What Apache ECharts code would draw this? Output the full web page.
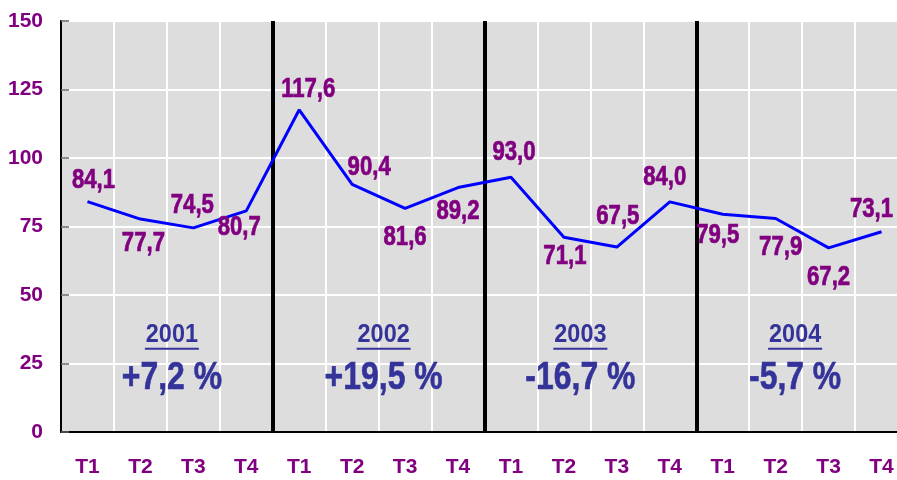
<!DOCTYPE html>
<html>
<head>
<meta charset="utf-8">
<style>
  html, body { margin: 0; padding: 0; background: #fff; }
  #chart { width: 897px; height: 480px; }
</style>
<script src="https://cdn.jsdelivr.net/npm/echarts@6/dist/echarts.min.js"></script>
</head>
<body>
<div id="chart"></div>
<script>
// data
const quarters = ['T1', 'T2', 'T3', 'T4', 'T1', 'T2', 'T3', 'T4', 'T1', 'T2', 'T3', 'T4', 'T1', 'T2', 'T3', 'T4']
const values = [84.1, 77.7, 74.5, 80.7, 117.6, 90.4, 81.6, 89.2, 93.0, 71.1, 67.5, 84.0, 79.5, 77.9, 67.2, 73.1]
const years = ['2001', '2002', '2003', '2004']
const yearChanges = ['+7,2 %', '+19,5 %', '-16,7 %', '-5,7 %']
const yTicks = [0, 25, 50, 75, 100, 125, 150]

// label placement around each point (px from the point)
const labelOffsets = [
  [6, -21], [3, 24], [-1, -22], [-7, 17], [9, -20], [17, -17], [0, 29], [0, 24],
  [3, -25], [1, 19], [1, -31], [-5, -24], [-5, 21], [5, 29], [0, 30], [-10, -22]
]
const yearShiftX = [5, 5, -10, -7]

const FONT = "'Liberation Sans', Arial, sans-serif"
const PURPLE = '#800080'
const NAVY = '#333399'
// no narrow font installed, squeeze the text instead
const NARROW = 0.82

const chart = echarts.init(document.getElementById('chart'))

const fmt = v => v.toFixed(1).replace('.', ',')

chart.setOption({
  animation: false,
  grid: {
    left: 61,
    top: 21,
    bottom: 48,
    right: -11, // plot runs past the right edge of the picture
    outerBoundsMode: 'none',
    show: true,
    backgroundColor: '#dddddd',
    borderColor: '#808080',
    borderWidth: 1.5
  },
  xAxis: [{
    type: 'category',
    data: quarters,
    boundaryGap: true,
    axisLine: { lineStyle: { color: '#000', width: 2 } },
    axisTick: { inside: true, length: 5, lineStyle: { color: '#555', width: 1.5 } },
    axisLabel: { color: PURPLE, fontFamily: FONT, fontWeight: 'bold', fontSize: 21, margin: 25 },
    splitLine: { show: true, lineStyle: { color: '#ffffff', width: 2 } }
  }, {
    type: 'value',
    min: 0,
    max: quarters.length,
    show: false
  }],
  yAxis: {
    type: 'value',
    min: yTicks[0],
    max: yTicks[yTicks.length - 1],
    interval: 25,
    axisLine: { show: true, lineStyle: { color: '#000', width: 2 } },
    axisTick: { show: true, inside: true, length: 8, lineStyle: { color: '#666', width: 1.5 } },
    axisLabel: { color: PURPLE, fontFamily: FONT, fontWeight: 'bold', fontSize: 21, margin: 18 },
    splitLine: { show: true, lineStyle: { color: '#ffffff', width: 2 } }
  },
  series: [{
    type: 'line',
    data: values,
    showSymbol: false,
    lineStyle: { color: '#0000ff', width: 3 },
    z: 5
  }, {
    // value labels
    type: 'custom',
    data: values.map((v, i) => [i, v]),
    z: 6,
    renderItem: (params, api) => {
      const pt = api.coord([api.value(0), api.value(1)])
      const off = labelOffsets[params.dataIndex]
      return {
        type: 'text',
        x: pt[0] + off[0],
        y: pt[1] + off[1],
        scaleX: NARROW,
        style: {
          text: fmt(api.value(1)),
          fill: PURPLE,
          stroke: PURPLE,
          lineWidth: 0.7,
          fontFamily: FONT,
          fontWeight: 'bold',
          fontSize: 27,
          align: 'center',
          verticalAlign: 'middle'
        }
      }
    }
  }, {
    // year blocks: underlined year + yearly change
    type: 'custom',
    xAxisIndex: 1,
    data: years.map((y, i) => [i * 4 + 2, 30]),
    z: 4,
    renderItem: (params, api) => {
      const i = params.dataIndex
      const pt = api.coord([api.value(0), api.value(1)])
      const cx = pt[0] + yearShiftX[i]
      return {
        type: 'group',
        children: [{
          type: 'text',
          x: cx,
          y: pt[1] - 15,
          scaleX: 0.9,
          style: {
            text: years[i], fill: NAVY, fontFamily: FONT, fontWeight: 'bold', fontSize: 26,
            align: 'center', verticalAlign: 'middle'
          }
        }, {
          type: 'rect',
          shape: { x: cx - 27, y: pt[1] - 2, width: 54, height: 2 },
          style: { fill: NAVY }
        }, {
          type: 'text',
          x: cx,
          y: pt[1] + 29,
          scaleX: 0.84,
          style: {
            text: yearChanges[i], fill: NAVY, stroke: NAVY, lineWidth: 0.6,
            fontFamily: FONT, fontWeight: 'bold', fontSize: 38,
            align: 'center', verticalAlign: 'middle'
          }
        }]
      }
    },
    markLine: {
      silent: true,
      symbol: 'none',
      label: { show: false },
      lineStyle: { color: '#000', width: 4, type: 'solid' },
      data: [{ xAxis: 4 }, { xAxis: 8 }, { xAxis: 12 }]
    }
  }]
})
</script>
</body>
</html>
